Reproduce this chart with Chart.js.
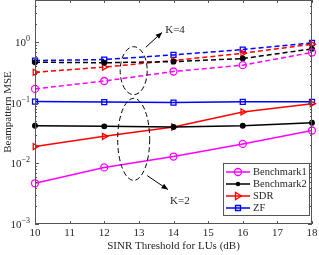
<!DOCTYPE html>
<html>
<head>
<meta charset="utf-8">
<script src="https://cdn.jsdelivr.net/npm/chart.js@4.4.0/dist/chart.umd.min.js"></script>
<style>
  html, body { margin: 0; padding: 0; background: #fff; }
  canvas { display: block; }
</style>
</head>
<body>
<canvas id="chart" width="319" height="255"></canvas>
<script>
// SINR threshold (dB) on the x axis
const sinr = [10, 12, 14, 16, 18];

// K=2 curves (solid)
const bench1K2 = [0.0047, 0.0086, 0.013, 0.021, 0.035];
const bench2K2 = [0.042, 0.041, 0.040, 0.042, 0.047];
const sdrK2 = [0.019, 0.028, 0.040, 0.071, 0.097];
const zfK2 = [0.105, 0.103, 0.101, 0.104, 0.104];

// K=4 curves (dashed)
const bench1K4 = [0.17, 0.23, 0.33, 0.42, 0.68];
const bench2K4 = [0.47, 0.46, 0.48, 0.54, 0.78];
const sdrK4 = [0.32, 0.39, 0.50, 0.66, 0.93];
const zfK4 = [0.50, 0.52, 0.62, 0.76, 0.98];

const xTicks = [10, 11, 12, 13, 14, 15, 16, 17, 18];
const yDecades = [-3, -2, -1, 0];

const FONT = '"Liberation Serif", "Times New Roman", serif';
const AXIS_COLOR = '#555';
const TEXT_COLOR = '#262626';

const series = [
  { label: 'Benchmark1', color: '#ff00ff', marker: 'circle' },
  { label: 'Benchmark2', color: '#000000', marker: 'dot' },
  { label: 'SDR', color: '#ff0000', marker: 'triangle' },
  { label: 'ZF', color: '#0000ff', marker: 'rect' }
];
const k2Data = [bench1K2, bench2K2, sdrK2, zfK2];
const k4Data = [bench1K4, bench2K4, sdrK4, zfK4];

function makeDataset(s, values, dashed) {
  const isDot = s.marker === 'dot';
  return {
    label: s.label,
    data: values.map((v, i) => ({ x: sinr[i], y: v })),
    borderColor: s.color,
    backgroundColor: isDot ? s.color : 'rgba(255,255,255,0)',
    borderWidth: 1.5,
    borderDash: dashed ? [5, 3] : [],
    pointStyle: isDot ? 'circle' : s.marker,
    pointRotation: s.marker === 'triangle' ? 90 : 0,
    pointRadius: isDot ? 2.3 : 3.5,
    pointBorderWidth: 1.3,
    pointBackgroundColor: isDot ? s.color : 'rgba(255,255,255,0)',
    tension: 0,
    fill: false,
    clip: false,
    inLegend: !dashed,
    marker: s.marker
  };
}

const datasets = [];
series.forEach((s, i) => datasets.push(makeDataset(s, k4Data[i], true)));
series.forEach((s, i) => datasets.push(makeDataset(s, k2Data[i], false)));

// annotation ellipses / arrows, positioned in data coordinates
const ellipses = [
  { x: 12.85, y: 0.34, rx: 13.5, ry: 24 },
  { x: 12.85, y: 0.025, rx: 16, ry: 41 }
];
const arrows = [
  { from: [13.2, 0.83], to: [13.67, 1.46] },
  { from: [13.24, 0.0063], to: [13.84, 0.0037] }
];
const notes = [
  { text: 'K=4', x: 13.76, y: 1.58 },
  { text: 'K=2', x: 13.9, y: 0.0024 }
];

function drawMarker(ctx, marker, color, x, y) {
  ctx.save();
  ctx.strokeStyle = color;
  ctx.fillStyle = color;
  ctx.lineWidth = 1.3;
  ctx.setLineDash([]);
  ctx.beginPath();
  if (marker === 'circle') {
    ctx.arc(x, y, 3.5, 0, Math.PI * 2);
    ctx.stroke();
  } else if (marker === 'dot') {
    ctx.arc(x, y, 2.3, 0, Math.PI * 2);
    ctx.fill();
  } else if (marker === 'triangle') {
    ctx.moveTo(x + 3.5, y);
    ctx.lineTo(x - 2.5, y - 3.5);
    ctx.lineTo(x - 2.5, y + 3.5);
    ctx.closePath();
    ctx.stroke();
  } else if (marker === 'rect') {
    ctx.rect(x - 2.5, y - 2.5, 5, 5);
    ctx.stroke();
  }
  ctx.restore();
}

const matlabAxes = {
  id: 'matlabAxes',
  afterDatasetsDraw(chart) {
    const { ctx, chartArea: a, scales } = chart;
    const xs = scales.x, ys = scales.y;
    ctx.save();

    // annotations
    ctx.strokeStyle = '#000';
    ctx.lineWidth = 1;
    ctx.setLineDash([5, 3]);
    ellipses.forEach(e => {
      ctx.beginPath();
      ctx.ellipse(xs.getPixelForValue(e.x), ys.getPixelForValue(e.y), e.rx, e.ry, 0, 0, Math.PI * 2);
      ctx.stroke();
    });
    ctx.setLineDash([]);
    arrows.forEach(ar => {
      const x1 = xs.getPixelForValue(ar.from[0]), y1 = ys.getPixelForValue(ar.from[1]);
      const x2 = xs.getPixelForValue(ar.to[0]), y2 = ys.getPixelForValue(ar.to[1]);
      ctx.beginPath();
      ctx.moveTo(x1, y1);
      ctx.lineTo(x2, y2);
      ctx.stroke();
      const ang = Math.atan2(y2 - y1, x2 - x1);
      ctx.beginPath();
      ctx.moveTo(x2, y2);
      ctx.lineTo(x2 - 7 * Math.cos(ang - 0.4), y2 - 7 * Math.sin(ang - 0.4));
      ctx.lineTo(x2 - 7 * Math.cos(ang + 0.4), y2 - 7 * Math.sin(ang + 0.4));
      ctx.closePath();
      ctx.fillStyle = '#000';
      ctx.fill();
    });
    ctx.fillStyle = TEXT_COLOR;
    ctx.font = '11px ' + FONT;
    ctx.textAlign = 'left';
    ctx.textBaseline = 'middle';
    notes.forEach(n => ctx.fillText(n.text, xs.getPixelForValue(n.x), ys.getPixelForValue(n.y)));

    // box
    ctx.strokeStyle = AXIS_COLOR;
    ctx.lineWidth = 1;
    ctx.strokeRect(a.left + 0.5, a.top + 0.5, a.right - a.left - 1, a.bottom - a.top - 1);

    // x ticks
    ctx.beginPath();
    xTicks.forEach(v => {
      const px = Math.round(xs.getPixelForValue(v)) + 0.5;
      ctx.moveTo(px, a.bottom); ctx.lineTo(px, a.bottom - 3);
      ctx.moveTo(px, a.top); ctx.lineTo(px, a.top + 3);
    });
    // y ticks (major + minor)
    yDecades.forEach(d => {
      for (let m = 1; m <= 9; m++) {
        const v = m * Math.pow(10, d);
        if (v > ys.max || v < ys.min) continue;
        const py = Math.round(ys.getPixelForValue(v)) + 0.5;
        const len = m === 1 ? 4 : 2;
        ctx.moveTo(a.left, py); ctx.lineTo(a.left + len, py);
        ctx.moveTo(a.right, py); ctx.lineTo(a.right - len, py);
      }
    });
    ctx.stroke();

    // tick labels
    ctx.fillStyle = TEXT_COLOR;
    ctx.font = '11px ' + FONT;
    ctx.textAlign = 'center';
    ctx.textBaseline = 'top';
    xTicks.forEach(v => ctx.fillText(String(v), xs.getPixelForValue(v), a.bottom + 4));

    yDecades.forEach(d => {
      const py = ys.getPixelForValue(Math.pow(10, d));
      const sup = String(d).replace('-', '\u2212');
      ctx.font = '8px ' + FONT;
      const supW = ctx.measureText(sup).width;
      const right = a.left - 5;
      ctx.textAlign = 'right';
      ctx.textBaseline = 'alphabetic';
      ctx.fillText(sup, right, py - 1);
      ctx.font = '11px ' + FONT;
      ctx.fillText('10', right - supW, py + 4);
    });

    // axis titles
    ctx.font = '11px ' + FONT;
    ctx.textAlign = 'center';
    ctx.textBaseline = 'middle';
    ctx.fillText('SINR Threshold for LUs (dB)', (a.left + a.right) / 2, 246);
    ctx.save();
    ctx.translate(8, (a.top + a.bottom) / 2);
    ctx.rotate(-Math.PI / 2);
    ctx.fillText('Beampattern MSE', 0, 0);
    ctx.restore();

    // legend (solid K=2 curves only)
    const items = chart.data.datasets.filter(ds => ds.inLegend);
    const lx = 223, ly = 163, lw = 86, lh = 52;
    ctx.fillStyle = '#fff';
    ctx.fillRect(lx, ly, lw, lh);
    ctx.strokeStyle = AXIS_COLOR;
    ctx.lineWidth = 1;
    ctx.strokeRect(lx + 0.5, ly + 0.5, lw, lh);
    items.forEach((ds, i) => {
      const y = ly + 9 + i * 12;
      ctx.strokeStyle = ds.borderColor;
      ctx.lineWidth = 1.5;
      ctx.beginPath();
      ctx.moveTo(lx + 3, y); ctx.lineTo(lx + 27, y);
      ctx.stroke();
      drawMarker(ctx, ds.marker, ds.borderColor, lx + 15, y);
      ctx.fillStyle = TEXT_COLOR;
      ctx.font = '10.5px ' + FONT;
      ctx.textAlign = 'left';
      ctx.textBaseline = 'middle';
      ctx.fillText(ds.label, lx + 30, y + 0.5);
    });
    ctx.restore();
  }
};

new Chart(document.getElementById('chart'), {
  type: 'line',
  data: { datasets },
  options: {
    responsive: false,
    animation: false,
    layout: { autoPadding: false, padding: { left: 35, right: 7, top: 0, bottom: 31 } },
    plugins: { legend: { display: false }, tooltip: { enabled: false } },
    scales: {
      x: { type: 'linear', min: 10, max: 18, display: false },
      y: { type: 'logarithmic', min: 0.001, max: 5, display: false }
    }
  },
  plugins: [matlabAxes]
});
</script>
</body>
</html>
